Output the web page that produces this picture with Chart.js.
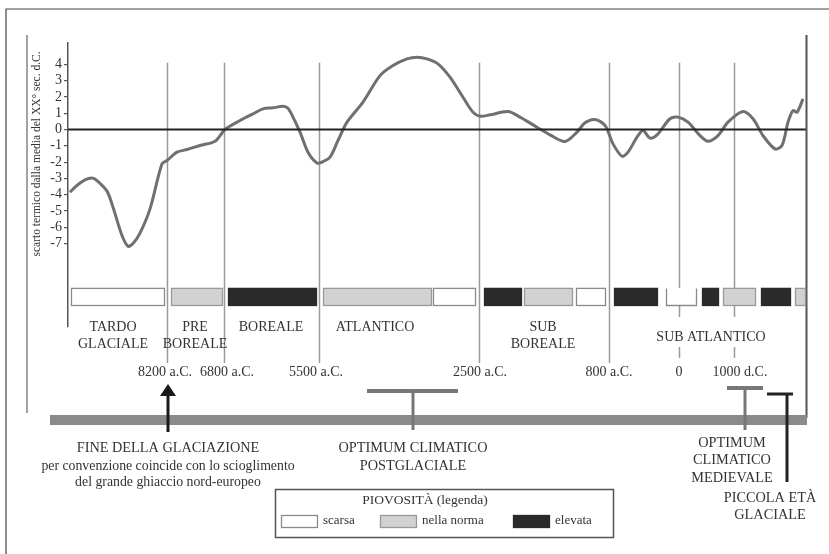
<!DOCTYPE html>
<html>
<head>
<meta charset="utf-8">
<script src="https://cdn.jsdelivr.net/npm/chart.js@4/dist/chart.umd.min.js"></script>
<style>
html,body{margin:0;padding:0;background:#fff;}
canvas{display:block;}
</style>
</head>
<body>
<canvas id="c" width="829" height="554" style="width:829px;height:554px"></canvas>
<script>
// ---- DATA (x in "posizione" units along the non-linear time axis) ----
const curvaX = [2,9,17,24,29,39,45,54,60,65,72,82,94,99,109,119,132,147,157,172,185,195,205,215,220,225,232,240,249,254,262,270,279,295,312,325,339,349,359,370,382,395,405,412,422,440,452,469,482,497,509,517,527,537,545,554,560,569,575,582,589,602,610,620,632,640,650,660,675,685,695,707,714,720,725,729,735];
const curvaY = [-3.85,-3.43,-3.09,-2.97,-3.13,-3.78,-4.77,-6.5,-7.16,-7.0,-6.36,-4.87,-2.1,-1.9,-1.39,-1.23,-0.98,-0.72,0.0,0.55,0.96,1.27,1.33,1.43,1.31,0.76,-0.16,-1.39,-2.05,-2.0,-1.7,-0.67,0.45,1.68,3.31,3.93,4.34,4.44,4.34,4.03,3.21,1.98,1.06,0.82,0.9,1.1,0.76,0.14,-0.33,-0.74,-0.16,0.41,0.61,0.25,-0.88,-1.64,-1.39,-0.47,-0.06,-0.53,-0.33,0.66,0.76,0.45,-0.37,-0.72,-0.37,0.45,1.1,0.66,-0.37,-1.19,-0.98,0.45,1.17,1.06,1.88];

const yTickValues = [4,3,2,1,0,-1,-2,-3,-4,-5,-6,-7];
const yTitolo = 'scarto termico dalla media del XX° sec. d.C.';

const periodi = [['TARDO','GLACIALE'],['PRE','BOREALE'],['BOREALE'],['ATLANTICO'],['SUB','BOREALE'],['SUB ATLANTICO']];
const periodiPos = [45,127,203,307,475,643];

const dateEtichette = ['8200 a.C.','6800 a.C.','5500 a.C.','2500 a.C.','800 a.C.','0','1000 d.C.'];
const datePos = [97,159,248,412,541,611,672];
const lineePos = [99,156,251,411,541,611,666];

const pioggiaInizio = [3,103,160,255,365,416,456,508,546,598,634,655,693,727];
const pioggiaFine   = [96,154,248,363,407,453,504,537,589,628,650,687,722,738];
const pioggiaLivello = ['scarsa','norma','elevata','norma','scarsa','elevata','norma','scarsa','elevata','scarsa','elevata','norma','elevata','norma'];
const legendaVoci = ['scarsa','nella norma','elevata'];

const eventi = [
  {pos:100, testo:['FINE DELLA GLACIAZIONE','per convenzione coincide con lo scioglimento','del grande ghiaccio nord-europeo']},
  {pos:345, da:299, a:390, testo:['OPTIMUM CLIMATICO','POSTGLACIALE']},
  {pos:677, da:659, a:695, testo:['OPTIMUM','CLIMATICO','MEDIEVALE']},
  {pos:719, da:699, a:725, testo:['PICCOLA ETÀ','GLACIALE']}
];

// ---- STYLE ----
const FONT = '"Liberation Serif", "DejaVu Serif", serif';
const TXT = '#333';
const fill = {scarsa:'#ffffff', norma:'#d2d2d2', elevata:'#2a2a2a'};
const edge = {scarsa:'#8a8a8a', norma:'#999', elevata:'#2a2a2a'};

const annot = {
  id:'annot',
  beforeDraw(chart){
    const c = chart.ctx;
    c.save(); c.fillStyle='#fff'; c.fillRect(0,0,chart.width,chart.height); c.restore();
  },
  beforeDatasetsDraw(chart){
    const c = chart.ctx, xs = chart.scales.x, ys = chart.scales.y;
    const X = v=>xs.getPixelForValue(v), Y = v=>ys.getPixelForValue(v);
    c.save();
    // frame
    c.strokeStyle='#444'; c.lineWidth=1.2;
    c.beginPath(); c.moveTo(6,554); c.lineTo(6,9); c.lineTo(829,9); c.stroke();
    c.strokeStyle='#666'; c.lineWidth=1.2;
    c.beginPath(); c.moveTo(27,35); c.lineTo(27,413); c.stroke();
    // period lines
    c.strokeStyle='#9a9a9a'; c.lineWidth=1.5;
    const top = Y(4.1);
    lineePos.forEach((p,i)=>{
      const x = Math.round(X(p))+0.5;
      c.beginPath();
      if (i>=5){
        c.moveTo(x,top); c.lineTo(x,288);
        c.moveTo(x,305); c.lineTo(x,317);
        c.moveTo(x,347); c.lineTo(x,358);
      } else {
        c.moveTo(x,top); c.lineTo(x,363);
      }
      c.stroke();
    });
    c.restore();
  },
  afterDatasetsDraw(chart){
    const c = chart.ctx, xs = chart.scales.x, ys = chart.scales.y;
    const X = v=>xs.getPixelForValue(v), Y = v=>ys.getPixelForValue(v);
    const a = chart.chartArea;
    c.save();
    // zero line
    c.strokeStyle='#222'; c.lineWidth=2;
    c.beginPath(); c.moveTo(a.left, Y(0)); c.lineTo(X(738), Y(0)); c.stroke();
    // right thick line
    c.strokeStyle='#555'; c.lineWidth=2;
    c.beginPath(); c.moveTo(X(738)+0.5,35); c.lineTo(X(738)+0.5,418); c.stroke();
    // precipitation bars
    const bt = Y(-9.75), bb = Y(-10.8);
    pioggiaInizio.forEach((s,i)=>{
      const lv = pioggiaLivello[i];
      const x0 = Math.round(X(s))+0.5, x1 = Math.round(Math.min(X(pioggiaFine[i]), X(738)-1))+0.5;
      c.fillStyle = fill[lv]; c.fillRect(x0, bt, x1-x0, bb-bt);
      c.strokeStyle = edge[lv]; c.lineWidth=1.3;
      if (i===9) { // open-top box where the "0" line enters
        c.beginPath(); c.moveTo(x0,bt); c.lineTo(x0,bb); c.lineTo(x1,bb); c.lineTo(x1,bt); c.stroke();
      } else c.strokeRect(x0, bt, x1-x0, bb-bt);
    });
    // y title
    c.fillStyle=TXT; c.font='11.5px '+FONT; c.textAlign='center'; c.textBaseline='middle';
    c.save(); c.translate(37,154); c.rotate(-Math.PI/2); c.fillText(yTitolo,0,0); c.restore();
    // period labels
    c.font='14px '+FONT;
    periodi.forEach((lines,i)=>{
      const x = X(periodiPos[i]);
      if (lines.length===1 && i===5) { c.fillText(lines[0], x, 337); }
      else lines.forEach((t,k)=>c.fillText(t, x, 327+k*17.5));
    });
    // dates
    dateEtichette.forEach((t,i)=>c.fillText(t, X(datePos[i]), 372));
    // bottom band
    c.fillStyle='#8a8a8a'; c.fillRect(50,415,X(738)+1-50,10);
    // arrow
    const ax = X(eventi[0].pos);
    c.strokeStyle='#1a1a1a'; c.lineWidth=3;
    c.beginPath(); c.moveTo(ax,392); c.lineTo(ax,432); c.stroke();
    c.fillStyle='#1a1a1a';
    c.beginPath(); c.moveTo(ax,384); c.lineTo(ax-8,396); c.lineTo(ax+8,396); c.closePath(); c.fill();
    // T markers
    const tees = [[eventi[1],391,430,'#777',4],[eventi[2],388,430,'#777',4],[eventi[3],394,482,'#222',3]];
    tees.forEach(([e,yh,yb,col,th])=>{
      c.strokeStyle=col; c.lineWidth=th;
      c.beginPath(); c.moveTo(X(e.da),yh); c.lineTo(X(e.a),yh); c.stroke();
      c.lineWidth=3;
      c.beginPath(); c.moveTo(X(e.pos),yh); c.lineTo(X(e.pos),yb); c.stroke();
    });
    // event texts
    c.fillStyle=TXT; c.textAlign='center';
    c.font='14.3px '+FONT; c.fillText(eventi[0].testo[0], X(eventi[0].pos), 448);
    c.font='13.8px '+FONT;
    c.fillText(eventi[0].testo[1], X(eventi[0].pos), 466);
    c.fillText(eventi[0].testo[2], X(eventi[0].pos), 482);
    c.font='14.3px '+FONT;
    eventi[1].testo.forEach((t,k)=>c.fillText(t, X(eventi[1].pos), 448+k*18));
    eventi[2].testo.forEach((t,k)=>c.fillText(t, 732, 443+k*17.5));
    eventi[3].testo.forEach((t,k)=>c.fillText(t, 770, 498+k*17));
    // legend
    c.strokeStyle='#555'; c.lineWidth=1.5; c.strokeRect(275.5,489.5,338,48);
    c.fillStyle=TXT; c.font='13.5px '+FONT; c.fillText('PIOVOSITÀ (legenda)', 425, 500);
    c.font='13px '+FONT;
    const sw = [[281,'scarsa'],[380,'norma'],[513,'elevata']];
    sw.forEach(([x,lv],i)=>{
      c.fillStyle=fill[lv]; c.fillRect(x+0.5,515.5,36,12);
      c.strokeStyle=edge[lv]; c.lineWidth=1.3; c.strokeRect(x+0.5,515.5,36,12);
      c.fillStyle=TXT; c.textAlign='left'; c.fillText(legendaVoci[i], x+42, 521);
    });
    c.restore();
  }
};

new Chart(document.getElementById('c'), {
  type:'line',
  data:{ datasets:[{
    data: curvaX.map((x,i)=>({x:x, y:curvaY[i]})),
    borderColor:'#707070', borderWidth:3, pointRadius:0, tension:0.3, fill:false
  }]},
  options:{
    responsive:false, animation:false, devicePixelRatio:1,
    layout:{padding:{left:0,right:23,top:43,bottom:227}},
    plugins:{legend:{display:false}, tooltip:{enabled:false}},
    scales:{
      x:{type:'linear', min:0, max:738, display:false},
      y:{type:'linear', min:-12.12, max:5.31,
        afterBuildTicks(ax){ ax.ticks = yTickValues.map(v=>({value:v})); },
        afterFit(ax){ ax.width = 68; },
        ticks:{font:{family:FONT,size:14}, color:TXT, padding:2, autoSkip:false},
        grid:{drawOnChartArea:false, tickLength:4, color:'#555', lineWidth:1.2},
        border:{display:true, color:'#555', width:1.5}
      }
    }
  },
  plugins:[annot]
});
</script>
</body>
</html>
